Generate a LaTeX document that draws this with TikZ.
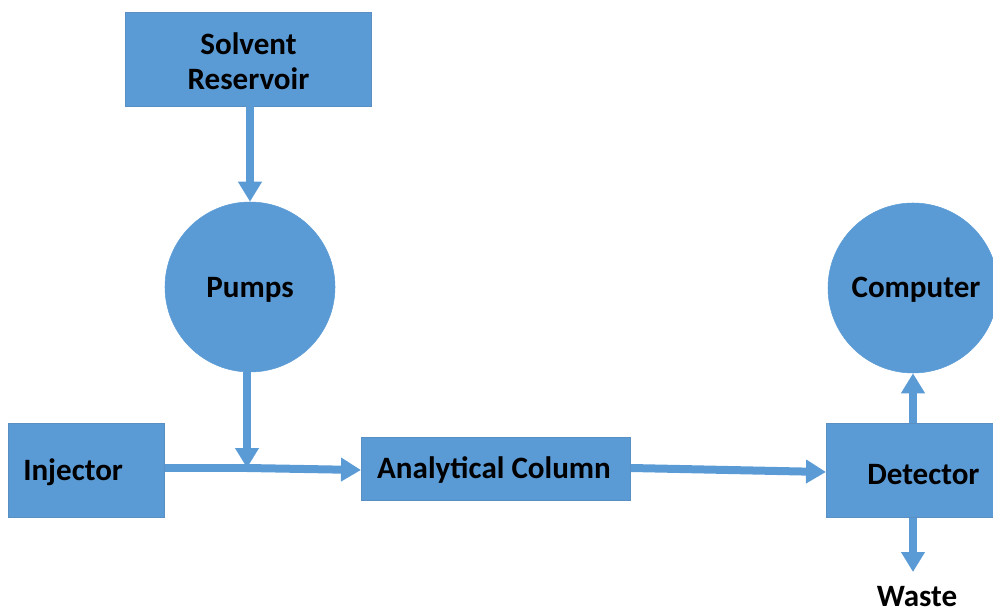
\documentclass[tikz,border=0pt]{standalone}
\usepackage{fontspec}
\setmainfont{Carlito}
\usetikzlibrary{arrows.meta}
\definecolor{blu}{HTML}{5B9BD5}
\definecolor{bluedge}{HTML}{5A8FC4}
\begin{document}
\begin{tikzpicture}[x=0.75pt,y=-0.75pt,
  lbl/.style={font=\fontsize{23.3}{26.5}\selectfont\bfseries, text=black},
  boxn/.style={draw=bluedge, fill=blu, line width=0.6pt, inner sep=0pt, lbl, align=center},
  circn/.style={circle, fill=blu, draw=blu, inner sep=0pt, minimum size=127.5pt, lbl},
  flow/.style={draw=blu, line width=6pt, -{Triangle[width=17pt,length=15pt]}, shorten >=0pt}]
\useasboundingbox (0,0) rectangle (993,613);
\node[boxn, minimum width=185pt, minimum height=70.5pt] (res) at (248.5,59) {};
\node[lbl, align=center, inner sep=0pt] (rest) at (248.5,61) {Solvent\\Reservoir};
\node[circn] (pump) at (250,287) {};
\node[lbl, inner sep=0pt] (pumpt) at (250,290) {Pumps};
\node[boxn, minimum width=117pt, minimum height=70.5pt, anchor=north west] (inj) at (8,423) {};
\node[lbl, anchor=west, inner sep=0pt] (injt) at (23,472) {Injector};
\node[boxn, minimum width=201.75pt, minimum height=47.25pt, anchor=north west] (col) at (361,437) {};
\node[lbl, inner sep=0pt] (colt) at (494,470) {Analytical Column};
\node[boxn, minimum width=126pt, minimum height=70.5pt, anchor=north west] (det) at (826,423) {};
\node[lbl, anchor=west, inner sep=0pt] (dett) at (867,475) {Detector};
\node[circn] (comp) at (913,288) {};
\node[lbl, inner sep=0pt] (compt) at (916,290) {Computer};
\node[lbl, anchor=base, inner sep=0pt] (waste) at (917,606) {Waste};
\coordinate (j) at (247,468);
\coordinate (wend) at (913,572);
\draw[flow] (res.south -| 250,0) -- (pump.north);
\draw[flow] (pump.south -| 247,0) -- (j);
\draw[draw=blu, line width=6pt] (inj.east |- 0,468) -- (j);
\draw[flow] (j) -- (col.west |- 0,470);
\draw[flow] (col.east |- 0,468) -- (det.west |- 0,472);
\draw[flow] (det.north -| 913,0) -- (comp.south);
\draw[flow] (det.south -| 913,0) -- (wend);
\end{tikzpicture}
\end{document}
